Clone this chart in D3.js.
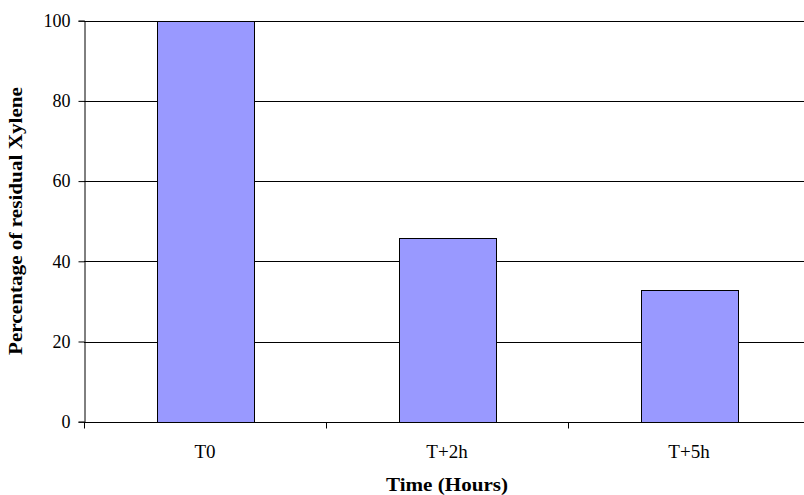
<!DOCTYPE html>
<html><head><meta charset="utf-8">
<script src="https://cdn.jsdelivr.net/npm/d3@7"></script>
<style>body{margin:0;background:#fff;}svg{display:block;}
svg text{font-family:"Liberation Serif","Times New Roman",serif;}</style>
</head><body>
<script>
const categories = ["T0", "T+2h", "T+5h"];
const values = [100, 45.7, 32.9];
const yTicks = [0, 20, 40, 60, 80, 100];
const xTitle = "Time (Hours)";
const yTitle = "Percentage of residual Xylene";

const W = 804, H = 495;
const mLeft = 84, mTop = 20.7, mBottom = 421.7, mRight = 810;

const svg = d3.select("body").append("svg").attr("width", W).attr("height", H);

const x = d3.scaleBand().domain(categories).range([mLeft, mRight]).paddingInner(0.6).paddingOuter(0.3);
const y = d3.scaleLinear().domain([0, 100]).range([mBottom, mTop]);

svg.append("g").selectAll("line").data(yTicks.filter(d => d > 0)).join("line")
  .attr("x1", mLeft).attr("x2", mRight)
  .attr("y1", d => Math.round(y(d)) + 0.5).attr("y2", d => Math.round(y(d)) + 0.5)
  .attr("stroke", "#000").attr("stroke-width", 1);

svg.append("g").selectAll("rect").data(values).join("rect")
  .attr("x", (d, i) => Math.round(x(categories[i])) + 0.5)
  .attr("y", d => Math.round(y(d)) + 0.5)
  .attr("width", Math.round(x.bandwidth()))
  .attr("height", d => Math.round(y(0)) - Math.round(y(d)))
  .attr("fill", "#9999ff")
  .attr("stroke", "#000").attr("stroke-width", 1);

const yAxis = d3.axisLeft(y).tickValues(yTicks).tickSize(6).tickPadding(8).tickFormat(d3.format("d"));
const gy = svg.append("g").attr("transform", `translate(${mLeft + 0.5},0)`).call(yAxis);
gy.attr("font-family", null).attr("font-size", null);
gy.select(".domain").attr("stroke", "#000");
gy.selectAll("text").style("font-size", "18px").attr("fill", "#000");

const xPos = d3.scaleLinear().domain([0, categories.length]).range([mLeft, mRight]);
const gx = svg.append("g").attr("transform", `translate(0,${Math.round(mBottom) + 0.5})`);
gx.append("line").attr("x1", mLeft).attr("x2", mRight).attr("stroke", "#000");
gx.selectAll(".tk").data(d3.range(categories.length + 1)).join("line")
  .attr("x1", d => Math.round(xPos(d)) + 0.5).attr("x2", d => Math.round(xPos(d)) + 0.5)
  .attr("y1", 0).attr("y2", 6).attr("stroke", "#000");
gx.selectAll("text").data(categories).join("text")
  .attr("x", d => x(d) + x.bandwidth() / 2).attr("y", 35)
  .attr("text-anchor", "middle").style("font-size", "19px").attr("fill", "#000")
  .text(d => d);

svg.append("text").attr("x", 447).attr("y", 491)
  .attr("text-anchor", "middle").style("font-size", "18px").style("font-weight", "bold")
  .attr("textLength", 122).attr("lengthAdjust", "spacingAndGlyphs")
  .text(xTitle);
svg.append("text").attr("transform", `translate(22,221) rotate(-90)`)
  .attr("text-anchor", "middle").style("font-size", "18px").style("font-weight", "bold")
  .attr("textLength", 268).attr("lengthAdjust", "spacingAndGlyphs")
  .text(yTitle);
</script>
</body></html>
